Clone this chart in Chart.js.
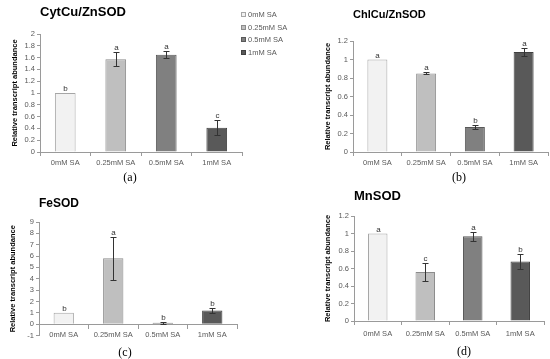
<!DOCTYPE html>
<html>
<head>
<meta charset="utf-8">
<script src="https://cdn.jsdelivr.net/npm/chart.js@4.4.1/dist/chart.umd.min.js"></script>
<style>
  body { margin: 0; background: #fff; }
  #wrap { position: relative; width: 550px; height: 359px; overflow: hidden; }
  canvas { position: absolute; }
  .panel { position: absolute; font-family: 'Liberation Serif', serif; font-size: 12px; color: #000; transform: translate(-50%, -50%); }
</style>
</head>
<body>
<div id="wrap">
  <canvas id="chartA" width="300" height="180" style="left:0;top:0"></canvas>
  <canvas id="chartB" width="260" height="180" style="left:290px;top:0"></canvas>
  <canvas id="chartC" width="275" height="179" style="left:0;top:180px"></canvas>
  <canvas id="chartD" width="275" height="179" style="left:275px;top:180px"></canvas>
  <div class="panel" style="left:130px;top:177px">(a)</div>
  <div class="panel" style="left:459px;top:177px">(b)</div>
  <div class="panel" style="left:125px;top:352px">(c)</div>
  <div class="panel" style="left:464px;top:351px">(d)</div>
</div>
<script>
// treatments
const categories = ['0mM SA', '0.25mM SA', '0.5mM SA', '1mM SA'];

// CytCu/ZnSOD
const cytValues = [1, 1.57, 1.65, 0.41];
const cytErrors = [0, 0.12, 0.06, 0.13];
const cytLetters = ['b', 'a', 'a', 'c'];

// ChlCu/ZnSOD
const chlValues = [1, 0.85, 0.27, 1.08];
const chlErrors = [0, 0.01, 0.02, 0.04];
const chlLetters = ['a', 'a', 'b', 'a'];

// FeSOD
const feValues = [1, 5.8, 0.12, 1.2];
const feErrors = [0, 1.9, 0.1, 0.25];
const feLetters = ['b', 'a', 'b', 'b'];

// MnSOD
const mnValues = [1, 0.56, 0.97, 0.68];
const mnErrors = [0, 0.1, 0.05, 0.09];
const mnLetters = ['a', 'c', 'a', 'b'];

const barColors = ['#f2f2f2', '#bfbfbf', '#808080', '#595959'];
const barBorders = ['#a6a6a6', '#8c8c8c', '#595959', '#404040'];
const axisColor = '#9a9a9a';
const textColor = '#595959';
const smallFont = "'Liberation Sans Narrow', 'Liberation Sans', sans-serif";

// error bars + significance letters
const errorBars = {
  id: 'errorBars',
  afterDatasetsDraw(chart) {
    const ctx = chart.ctx;
    const y = chart.scales.y;
    const ds = chart.data.datasets[0];
    chart.getDatasetMeta(0).data.forEach((bar, i) => {
      const v = ds.data[i], e = ds.errors[i];
      const x = Math.round(bar.x) + 0.5;
      const top = Math.round(y.getPixelForValue(v + e)) + 0.5;
      const bot = Math.round(y.getPixelForValue(v - e)) + 0.5;
      ctx.save();
      ctx.strokeStyle = '#333';
      ctx.lineWidth = 1;
      if (e > 0) {
        ctx.beginPath();
        ctx.moveTo(x, top); ctx.lineTo(x, bot);
        ctx.moveTo(x - 3, top); ctx.lineTo(x + 3, top);
        ctx.moveTo(x - 3, bot); ctx.lineTo(x + 3, bot);
        ctx.stroke();
      }
      ctx.fillStyle = '#333';
      ctx.font = '8px ' + smallFont;
      ctx.textAlign = 'center';
      ctx.textBaseline = 'alphabetic';
      ctx.fillText(ds.letters[i], x, top - 3);
      ctx.restore();
    });
  }
};

// legend sitting over the top right corner of panel (a)
const sideLegend = {
  id: 'sideLegend',
  afterDraw(chart, args, opts) {
    if (!opts.show) return;
    const ctx = chart.ctx;
    ctx.save();
    ctx.font = '7.5px ' + smallFont;
    ctx.textBaseline = 'middle';
    ctx.textAlign = 'left';
    chart.data.labels.forEach((lab, i) => {
      const yy = Math.round(opts.y + i * opts.gap);
      ctx.fillStyle = barColors[i];
      ctx.fillRect(opts.x, yy - 3, 5, 5);
      ctx.strokeStyle = barBorders[i];
      ctx.strokeRect(opts.x + 0.5, yy - 2.5, 4, 4);
      ctx.fillStyle = textColor;
      ctx.fillText(lab, opts.x + 7, yy);
    });
    ctx.restore();
  }
};

function makeChart(id, title, values, errors, letters, yMin, yMax, yStep, box) {
  return new Chart(document.getElementById(id), {
    type: 'bar',
    data: {
      labels: categories,
      datasets: [{
        data: values,
        errors: errors,
        letters: letters,
        backgroundColor: barColors,
        borderColor: barBorders,
        borderWidth: 1,
        barPercentage: 0.41,
        categoryPercentage: 1
      }]
    },
    options: {
      responsive: false,
      animation: false,
      devicePixelRatio: 1,
      layout: { padding: { left: box.padLeft, right: box.padRight, top: 0, bottom: box.padBottom || 0 } },
      plugins: {
        legend: { display: false },
        tooltip: { enabled: false },
        title: {
          display: true,
          text: title,
          align: 'start',
          fullSize: false,
          color: '#000',
          font: { family: 'Liberation Sans', size: box.titleSize, weight: 'bold' },
          padding: { top: box.titleTop, bottom: box.titleBottom }
        },
        sideLegend: box.legend || { show: false }
      },
      scales: {
        x: {
          position: box.xAtZero ? { y: 0 } : 'bottom',
          grid: { offset: true, drawOnChartArea: false, tickLength: 4, color: axisColor },
          border: { color: axisColor },
          ticks: { color: textColor, font: { family: smallFont, size: 7.5 }, padding: box.xPad, maxRotation: 0, autoSkip: false },
          afterFit: s => { if (box.xHeight) s.height = box.xHeight; }
        },
        y: {
          min: yMin,
          max: yMax,
          grid: { drawOnChartArea: false, tickLength: 3, color: axisColor },
          border: { color: axisColor },
          ticks: {
            stepSize: yStep,
            autoSkip: false,
            color: textColor,
            font: { family: smallFont, size: 7.5 },
            padding: 2,
            callback: v => String(+v.toFixed(1))
          },
          title: {
            display: true,
            text: 'Relative transcript abundance',
            color: '#000',
            font: { family: 'Liberation Sans', size: 7.5, weight: 'bold' },
            padding: { top: 0, bottom: 0 }
          },
          afterFit: s => { s.width = box.yWidth; }
        }
      }
    },
    plugins: [errorBars, sideLegend]
  });
}

makeChart('chartA', 'CytCu/ZnSOD', cytValues, cytErrors, cytLetters, 0, 2, 0.2, {
  padLeft: 10, yWidth: 30, padRight: 58, titleSize: 13, titleTop: 5, titleBottom: 13.4,
  xHeight: 28, xPad: 2,
  legend: { show: true, x: 241, y: 15, gap: 12.5 }
});

makeChart('chartB', 'ChlCu/ZnSOD', chlValues, chlErrors, chlLetters, 0, 1.2, 0.2, {
  padLeft: 33, yWidth: 30, padRight: 2, titleSize: 11, titleTop: 8.4, titleBottom: 19.4,
  xHeight: 28, xPad: 2
});

makeChart('chartC', 'FeSOD', feValues, feErrors, feLetters, -1, 9, 1, {
  padLeft: 8, yWidth: 31, padRight: 38, titleSize: 12, titleTop: 16, titleBottom: 11.6,
  xAtZero: true, padBottom: 23.5, xPad: 2
});

makeChart('chartD', 'MnSOD', mnValues, mnErrors, mnLetters, 0, 1.2, 0.2, {
  padLeft: 48, yWidth: 31, padRight: 6, titleSize: 13, titleTop: 9, titleBottom: 11.4,
  xHeight: 38, xPad: 4
});
</script>
</body>
</html>
